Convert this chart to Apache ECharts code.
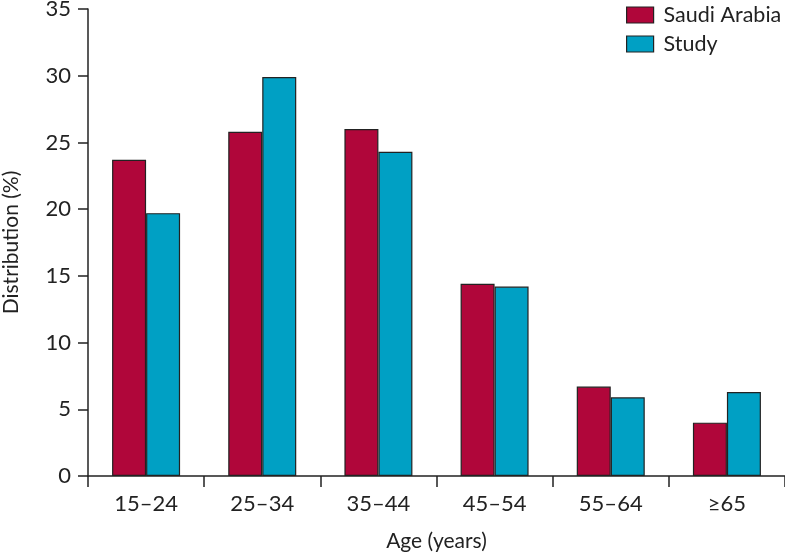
<!DOCTYPE html>
<html><head><meta charset="utf-8">
<script src="https://cdn.jsdelivr.net/npm/echarts@6/dist/echarts.min.js"></script>
<style>html,body{margin:0;padding:0;background:#fff}#c{width:785px;height:555px}</style>
</head><body><div id="c"></div>
<script>
const categories = ['15–24','25–34','35–44','45–54','55–64','≥65'];
const saudiArabia = [23.7, 25.8, 26.0, 14.4, 6.7, 4.0];
const study = [19.7, 29.9, 24.3, 14.2, 5.9, 6.3];
const seriesNames = ['Saudi Arabia','Study'];
const FONT = 'Lato';
const chart = echarts.init(document.getElementById('c'), null, {renderer:'canvas'});
chart.setOption({
  animation:false,
  textStyle:{fontFamily:FONT},
  legend:{
    left:626, top:4, orient:'vertical', itemWidth:27, itemHeight:16, itemGap:7,
    icon:'rect', padding:0,
    itemStyle:{borderColor:'#222', borderWidth:1.2},
    textStyle:{fontSize:21.5, lineHeight:22, color:'#222', fontFamily:FONT, padding:[0,0,0,5]},
    data:seriesNames
  },
  grid:{left:88, right:0, top:9, bottom:79, containLabel:false, outerBoundsMode:'none'},
  xAxis:{
    type:'category', data:categories,
    name:'Age (years)', nameLocation:'middle', nameGap:55,
    nameTextStyle:{fontSize:21, color:'#222', fontFamily:FONT},
    axisLine:{lineStyle:{color:'#222', width:1.5}},
    axisTick:{show:true, length:11, lineStyle:{color:'#222', width:1.5}},
    axisLabel:{fontSize:22, color:'#222', margin:17, fontFamily:FONT}
  },
  yAxis:{
    type:'value', min:0, max:35, interval:5,
    name:'Distribution (%)', nameLocation:'middle', nameGap:66,
    nameTextStyle:{fontSize:21, color:'#222', fontFamily:FONT},
    axisLine:{show:true, lineStyle:{color:'#222', width:1.5}},
    axisTick:{show:true, length:10, lineStyle:{color:'#222', width:1.5}},
    splitLine:{show:false},
    axisLabel:{fontSize:22, color:'#222', margin:17, fontFamily:FONT}
  },
  series:[
    {name:seriesNames[0], type:'bar', data:saudiArabia, barWidth:34, barGap:'0%',
     itemStyle:{color:'#B0063A', borderColor:'#222', borderWidth:1.2}},
    {name:seriesNames[1], type:'bar', data:study, barWidth:34, barGap:'0%',
     itemStyle:{color:'#00A0C4', borderColor:'#222', borderWidth:1.2}}
  ]
});
</script></body></html>
